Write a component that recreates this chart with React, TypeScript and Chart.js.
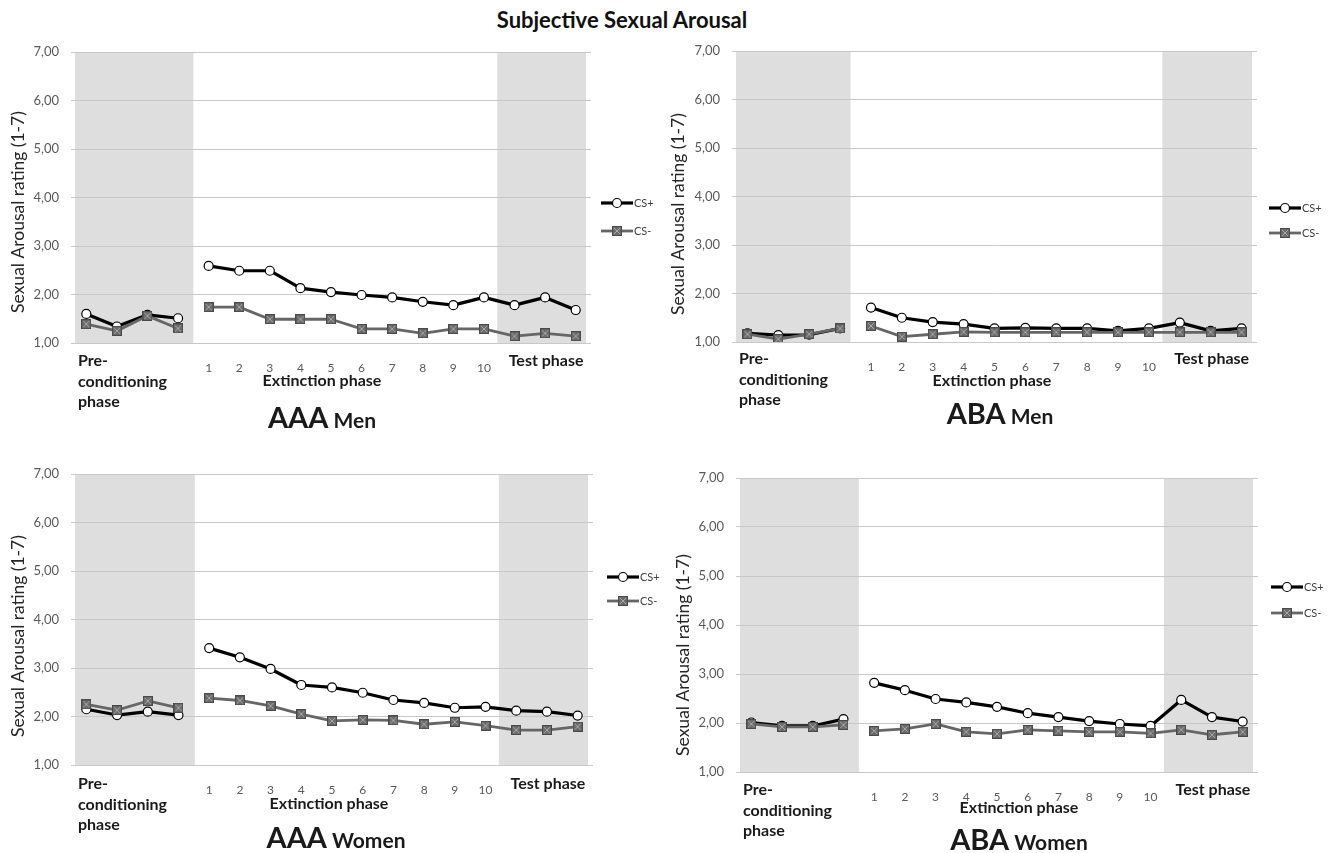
import React, { useEffect, useRef } from 'react';
import { Chart, registerables } from 'chart.js';

Chart.register(...registerables);

const FONT = 'Lato, "Open Sans", "DejaVu Sans", sans-serif';
Chart.defaults.font.family = FONT;

// ---------- text ----------
const MAIN_TITLE = 'Subjective Sexual Arousal';
const Y_TITLE = 'Sexual Arousal rating (1-7)';
const SERIES_NAMES = ['CS+', 'CS-'];
const PRE_LABEL_LINES = ['Pre-', 'conditioning', 'phase'];
const EXT_LABEL = 'Extinction phase';
const TEST_LABEL = 'Test phase';

// ---------- categories / ticks ----------
const CATEGORIES = [
  'Pre 1', 'Pre 2', 'Pre 3', 'Pre 4',
  'Ext 1', 'Ext 2', 'Ext 3', 'Ext 4', 'Ext 5', 'Ext 6', 'Ext 7', 'Ext 8', 'Ext 9', 'Ext 10',
  'Test 1', 'Test 2', 'Test 3',
];
const X_TICK_LABELS = ['', '', '', '', '1', '2', '3', '4', '5', '6', '7', '8', '9', '10', '', '', ''];
const PRE_COUNT = 4;
const TEST_COUNT = 3;
const Y_MIN = 1;
const Y_MAX = 7;
const Y_STEP = 1;

// ---------- data ----------
const AAA_MEN_CS_PLUS = [1.60, 1.34, 1.58, 1.51, 2.59, 2.49, 2.49, 2.13, 2.05, 1.99, 1.94, 1.85, 1.78, 1.94, 1.78, 1.94, 1.68];
const AAA_MEN_CS_MINUS = [1.39, 1.25, 1.56, 1.30, 1.74, 1.74, 1.49, 1.49, 1.49, 1.29, 1.29, 1.20, 1.29, 1.29, 1.14, 1.20, 1.14];
const ABA_MEN_CS_PLUS = [1.18, 1.14, 1.15, 1.28, 1.71, 1.50, 1.41, 1.37, 1.28, 1.29, 1.28, 1.28, 1.23, 1.28, 1.40, 1.23, 1.28];
const ABA_MEN_CS_MINUS = [1.16, 1.06, 1.16, 1.28, 1.33, 1.11, 1.16, 1.21, 1.20, 1.20, 1.20, 1.20, 1.20, 1.20, 1.20, 1.20, 1.20];
const AAA_WOMEN_CS_PLUS = [2.15, 2.03, 2.10, 2.03, 3.41, 3.22, 2.98, 2.65, 2.60, 2.49, 2.34, 2.28, 2.18, 2.20, 2.12, 2.10, 2.02];
const AAA_WOMEN_CS_MINUS = [2.25, 2.13, 2.32, 2.18, 2.38, 2.33, 2.22, 2.05, 1.91, 1.93, 1.92, 1.84, 1.89, 1.81, 1.72, 1.72, 1.79];
const ABA_WOMEN_CS_PLUS = [2.01, 1.94, 1.94, 2.08, 2.82, 2.67, 2.49, 2.42, 2.33, 2.20, 2.12, 2.04, 1.98, 1.94, 2.47, 2.12, 2.03];
const ABA_WOMEN_CS_MINUS = [1.98, 1.92, 1.92, 1.96, 1.84, 1.88, 1.98, 1.82, 1.78, 1.86, 1.84, 1.82, 1.82, 1.79, 1.86, 1.76, 1.82];

// ---------- styles ----------
const PLUS_COLOR = '#000000';
const MINUS_COLOR = '#666666';
const GRAY_BAND = '#dedede';
const GRID_COLOR = '#c8c8c8';
const TICK_COLOR = '#595959';
const TEXT_COLOR = '#1a1a1a';

// ---------- panel layout (page coordinates) ----------
const PANELS = [
  {
    key: 'aaa-men', groupLabel: 'AAA', sexLabel: 'Men',
    plus: AAA_MEN_CS_PLUS, minus: AAA_MEN_CS_MINUS,
    box: { x: 0, y: 30, w: 667, h: 415 },
    area: { l: 71, r: 591, t: 52, b: 343 },
    preEndInset: 0,
    yTitle: { x: 18, y: 212 },
    legend: { x: 601, y: [203, 231] },
    ext: { x: 322, y: 381 },
    title: { x: 322, y: 428 },
    preY: 361,
  },
  {
    key: 'aba-men', groupLabel: 'ABA', sexLabel: 'Men',
    plus: ABA_MEN_CS_PLUS, minus: ABA_MEN_CS_MINUS,
    box: { x: 667, y: 30, w: 667, h: 415 },
    area: { l: 732, r: 1257, t: 51, b: 342 },
    preEndInset: 5,
    yTitle: { x: 678, y: 214 },
    legend: { x: 1269, y: [208, 233] },
    ext: { x: 992, y: 381 },
    title: { x: 1000, y: 424 },
    preY: 359,
  },
  {
    key: 'aaa-women', groupLabel: 'AAA', sexLabel: 'Women',
    plus: AAA_WOMEN_CS_PLUS, minus: AAA_WOMEN_CS_MINUS,
    box: { x: 0, y: 445, w: 667, h: 408 },
    area: { l: 71, r: 593, t: 474, b: 765 },
    preEndInset: -1,
    yTitle: { x: 18, y: 636 },
    legend: { x: 607, y: [577, 601] },
    ext: { x: 329, y: 804 },
    title: { x: 336, y: 848 },
    preY: 784,
  },
  {
    key: 'aba-women', groupLabel: 'ABA', sexLabel: 'Women',
    plus: ABA_WOMEN_CS_PLUS, minus: ABA_WOMEN_CS_MINUS,
    box: { x: 667, y: 445, w: 667, h: 408 },
    area: { l: 736, r: 1258, t: 478, b: 772 },
    preEndInset: 0,
    yTitle: { x: 683, y: 655 },
    legend: { x: 1271, y: [587, 613] },
    ext: { x: 1019, y: 808 },
    title: { x: 1019, y: 850 },
    preY: 790,
  },
];

function makeSquareMarker(): HTMLCanvasElement {
  const c = document.createElement('canvas');
  c.width = 10;
  c.height = 10;
  const g = c.getContext('2d')!;
  g.fillStyle = '#6b6b6b';
  g.fillRect(0, 0, 10, 10);
  g.strokeStyle = '#4a4a4a';
  g.lineWidth = 1;
  g.strokeRect(0.5, 0.5, 9, 9);
  g.strokeStyle = '#a8a8a8';
  g.beginPath();
  g.moveTo(2, 2);
  g.lineTo(8, 8);
  g.moveTo(8, 2);
  g.lineTo(2, 8);
  g.stroke();
  return c;
}

function decorPlugin(p: any, square: HTMLCanvasElement) {
  const ox = p.box.x;
  const oy = p.box.y;
  return {
    id: 'decor-' + p.key,
    beforeDraw(chart: any) {
      const { ctx, chartArea: a, scales } = chart;
      const x = scales.x;
      const cw = (a.right - a.left) / CATEGORIES.length;
      const preEnd = x.getPixelForValue(PRE_COUNT - 1) + cw / 2 - p.preEndInset;
      const testStart = x.getPixelForValue(CATEGORIES.length - TEST_COUNT) - cw / 2;
      ctx.save();
      ctx.fillStyle = GRAY_BAND;
      ctx.fillRect(a.left + 4, a.top, preEnd - a.left - 4, a.bottom - a.top + 1);
      ctx.fillRect(testStart - 2, a.top, a.right - 5 - testStart + 2, a.bottom - a.top + 1);
      ctx.restore();
    },
    afterDraw(chart: any) {
      const { ctx, chartArea: a, scales } = chart;
      const x = scales.x;
      const cw = (a.right - a.left) / CATEGORIES.length;
      ctx.save();

      // y-axis title
      ctx.save();
      ctx.translate(p.yTitle.x - ox, p.yTitle.y - oy);
      ctx.rotate(-Math.PI / 2);
      ctx.font = `17.5px ${FONT}`;
      ctx.fillStyle = '#262626';
      ctx.textAlign = 'center';
      ctx.textBaseline = 'middle';
      ctx.fillText(Y_TITLE, 0, 0);
      ctx.restore();

      // phase labels
      ctx.fillStyle = TEXT_COLOR;
      ctx.font = `bold 16px ${FONT}`;
      ctx.textBaseline = 'middle';
      ctx.textAlign = 'left';
      PRE_LABEL_LINES.forEach((line, i) => {
        ctx.fillText(line, a.left + 7, p.preY - oy + i * 20.5);
      });
      ctx.textAlign = 'center';
      ctx.fillText(EXT_LABEL, p.ext.x - ox, p.ext.y - oy);
      const testStart = x.getPixelForValue(CATEGORIES.length - TEST_COUNT) - cw / 2;
      ctx.fillText(TEST_LABEL, (testStart + a.right) / 2 + 1, p.preY - oy);

      // panel title
      ctx.textBaseline = 'alphabetic';
      ctx.textAlign = 'left';
      ctx.font = `bold 29px ${FONT}`;
      const w1 = ctx.measureText(p.groupLabel).width;
      ctx.font = `bold 21px ${FONT}`;
      const w2 = ctx.measureText(' ' + p.sexLabel).width;
      const sx = p.title.x - ox - (w1 + w2) / 2;
      ctx.font = `bold 29px ${FONT}`;
      ctx.fillText(p.groupLabel, sx, p.title.y - oy);
      ctx.font = `bold 21px ${FONT}`;
      ctx.fillText(' ' + p.sexLabel, sx + w1, p.title.y - oy);

      // legend
      const lx = p.legend.x - ox;
      SERIES_NAMES.forEach((name, i) => {
        const ly = p.legend.y[i] - oy;
        ctx.strokeStyle = i === 0 ? PLUS_COLOR : MINUS_COLOR;
        ctx.lineWidth = i === 0 ? 3.2 : 2.8;
        ctx.beginPath();
        ctx.moveTo(lx, ly);
        ctx.lineTo(lx + 32, ly);
        ctx.stroke();
        if (i === 0) {
          ctx.beginPath();
          ctx.arc(lx + 16, ly, 4.5, 0, Math.PI * 2);
          ctx.fillStyle = '#ffffff';
          ctx.fill();
          ctx.lineWidth = 1.2;
          ctx.strokeStyle = PLUS_COLOR;
          ctx.stroke();
        } else {
          ctx.drawImage(square, lx + 16 - 5, ly - 5);
        }
        ctx.fillStyle = '#404040';
        ctx.font = `11px ${FONT}`;
        ctx.textAlign = 'left';
        ctx.textBaseline = 'middle';
        ctx.fillText(name, lx + 33, ly);
      });

      ctx.restore();
    },
  };
}

function Panel({ p }: { p: any }) {
  const ref = useRef<HTMLCanvasElement | null>(null);
  useEffect(() => {
    if (!ref.current) return;
    const square = makeSquareMarker();
    const areaL = p.area.l - p.box.x;
    const areaR = p.area.r - p.box.x;
    const areaT = p.area.t - p.box.y;
    const areaB = p.area.b - p.box.y;
    const gap = (color: string) => (ctx: any) => (ctx.p0DataIndex === PRE_COUNT - 1 ? 'rgba(0,0,0,0)' : color);
    const chart = new Chart(ref.current, {
      type: 'line',
      data: {
        labels: CATEGORIES,
        datasets: [
          {
            label: SERIES_NAMES[0],
            data: p.plus,
            borderColor: PLUS_COLOR,
            borderWidth: 3.2,
            borderJoinStyle: 'round',
            tension: 0,
            pointStyle: 'circle',
            pointRadius: 4.5,
            pointBackgroundColor: '#ffffff',
            pointBorderColor: PLUS_COLOR,
            pointBorderWidth: 1.2,
            order: 1,
            segment: { borderColor: gap(PLUS_COLOR) },
          },
          {
            label: SERIES_NAMES[1],
            data: p.minus,
            borderColor: MINUS_COLOR,
            borderWidth: 2.8,
            borderJoinStyle: 'round',
            tension: 0,
            pointStyle: square,
            pointRadius: 5,
            order: 0,
            segment: { borderColor: gap(MINUS_COLOR) },
          },
        ],
      },
      options: {
        responsive: false,
        animation: false,
        devicePixelRatio: 1,
        events: [],
        layout: { padding: { left: 0, top: areaT, right: p.box.w - areaR, bottom: 0 } },
        plugins: {
          legend: { display: false },
          tooltip: { enabled: false },
          title: { display: false },
        },
        scales: {
          x: {
            type: 'category',
            offset: true,
            grid: { display: false },
            border: { display: false },
            ticks: {
              autoSkip: false,
              maxRotation: 0,
              minRotation: 0,
              padding: 10,
              color: TICK_COLOR,
              font: { family: FONT, size: 12 },
              callback: (_v: any, i: number) => X_TICK_LABELS[i],
            },
            afterFit: (s: any) => {
              s.height = p.box.h - areaB;
            },
          },
          y: {
            min: Y_MIN,
            max: Y_MAX,
            grid: { color: GRID_COLOR, lineWidth: 1, drawTicks: false },
            border: { display: false },
            ticks: {
              stepSize: Y_STEP,
              padding: 12,
              color: TICK_COLOR,
              font: { family: FONT, size: 13 },
              callback: (v: any) => Number(v).toFixed(2).replace('.', ','),
            },
            afterFit: (s: any) => {
              s.width = areaL;
            },
          },
        },
      },
      plugins: [decorPlugin(p, square)],
    } as any);
    return () => chart.destroy();
  }, [p]);
  return (
    <canvas
      ref={ref}
      width={p.box.w}
      height={p.box.h}
      style={{ position: 'absolute', left: p.box.x, top: p.box.y, width: p.box.w, height: p.box.h }}
    />
  );
}

export default function App() {
  return (
    <div style={{ position: 'absolute', left: 0, top: 0, width: 1334, height: 853, background: '#ffffff', overflow: 'hidden' }}>
      <div
        style={{
          position: 'absolute', left: 0, top: 7, width: 1244, textAlign: 'center',
          fontFamily: FONT, fontWeight: 700, fontSize: 22, lineHeight: '26px', color: '#111111',
        }}
      >
        {MAIN_TITLE}
      </div>
      {PANELS.map((p) => (
        <Panel key={p.key} p={p} />
      ))}
    </div>
  );
}
